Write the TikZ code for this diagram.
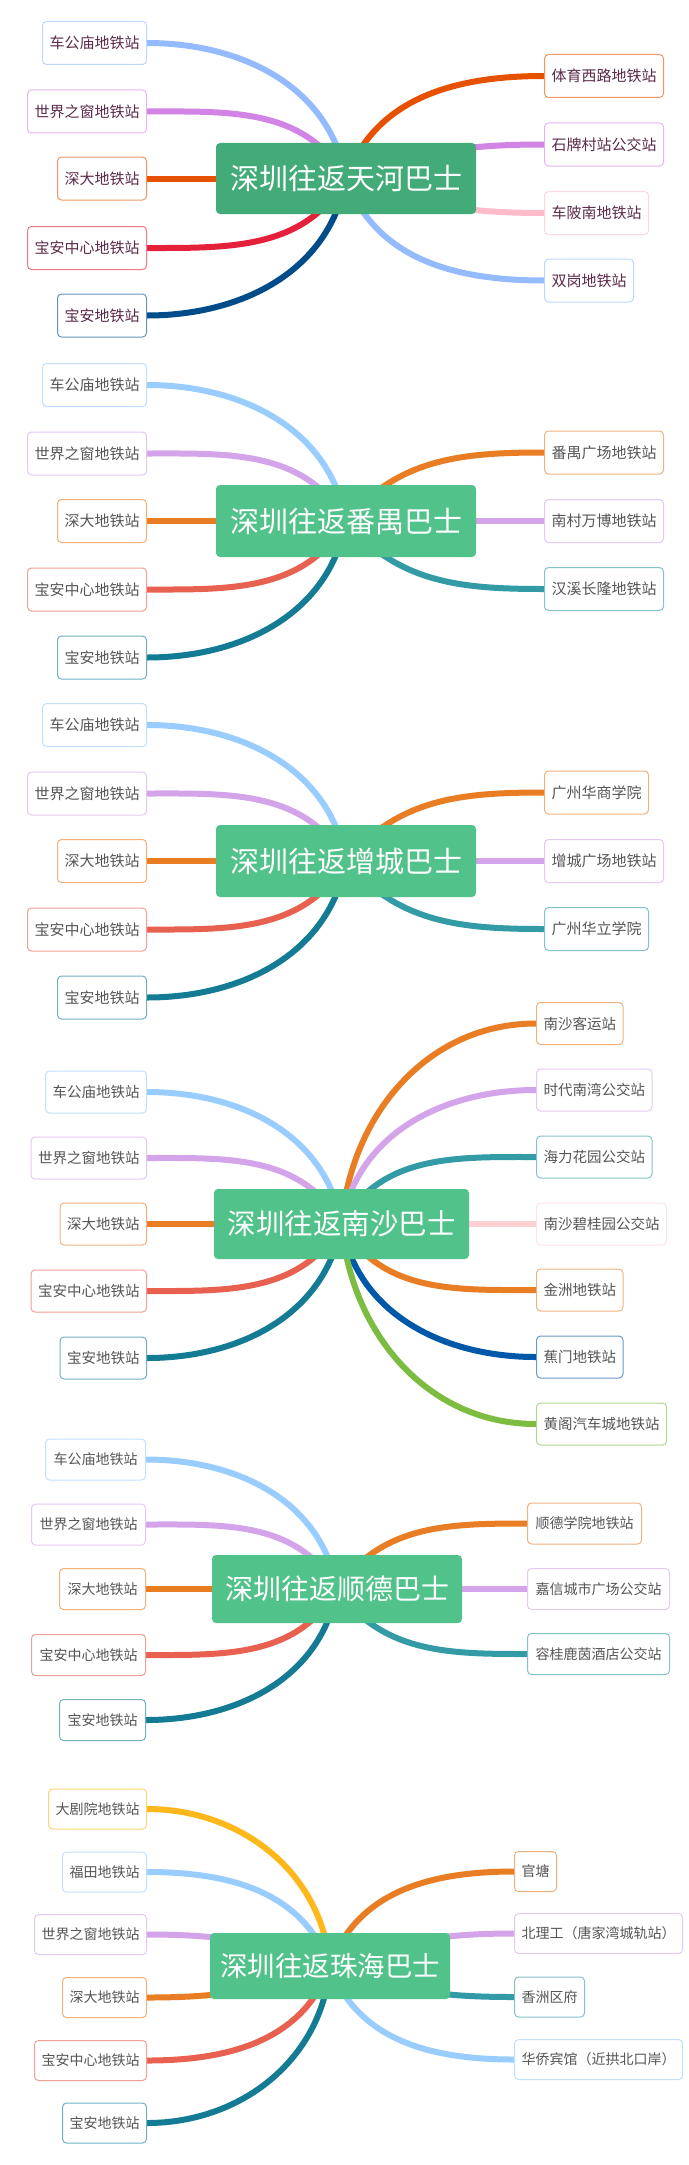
\documentclass[tikz,border=0pt]{standalone}
\usepackage{fontspec}
\newfontfamily\cjk{Noto Sans CJK SC}
\usetikzlibrary{backgrounds}

\definecolor{hubdark}{HTML}{43AB78}
\definecolor{hubgreen}{HTML}{52C28B}
\definecolor{leafplum}{HTML}{5A2A48}
\definecolor{leafgray}{HTML}{555555}
% first map
\definecolor{skyA}{HTML}{94BBFF}
\definecolor{orchidA}{HTML}{D283E6}
\definecolor{rustA}{HTML}{E65100}
\definecolor{redA}{HTML}{E5203A}
\definecolor{navyA}{HTML}{004C88}
\definecolor{pinkA}{HTML}{FFBCC8}
% other maps
\definecolor{sky}{HTML}{99CCFF}
\definecolor{lilac}{HTML}{D4A4EB}
\definecolor{carrot}{HTML}{E87D23}
\definecolor{coral}{HTML}{E8604F}
\definecolor{petrol}{HTML}{147B95}
\definecolor{teal}{HTML}{329BA5}
\definecolor{blush}{HTML}{FFD0D6}
\definecolor{cobalt}{HTML}{0059A8}
\definecolor{leaf}{HTML}{7CBC41}
\definecolor{amber}{HTML}{FFB81C}

\begin{document}
\begin{tikzpicture}[
    x=1pt, y=1pt,
    font=\cjk\fontsize{15}{18}\selectfont, text=leafgray,
    hub/.style={fill=hubgreen, text=white, rounded corners=4pt, inner sep=0pt,
      minimum width=260pt, minimum height=72pt, font=\cjk\fontsize{29}{34}\selectfont},
    stop/.style={draw=#1!60, fill=white, line width=1pt, rounded corners=4pt,
      inner xsep=7pt, inner ysep=0pt, minimum height=43pt},
    branch/.style={draw=#1, line width=6pt},
  ]
  \useasboundingbox (0,0) rectangle (688,-2165);
  \begin{scope}[on background layer]
    \fill[white] (0,0) rectangle (688,-2165);
  \end{scope}

  % 天河
  \begin{scope}[text=leafplum]
    \node[hub, fill=hubdark, minimum height=71pt] (r1) at (346,-178.5) {深圳往返天河巴士};
    \node[stop=skyA, anchor=east] (r1w1) at (147,-43) {车公庙地铁站};
    \node[stop=orchidA, anchor=east] (r1w2) at (147,-111.5) {世界之窗地铁站};
    \node[stop=rustA, anchor=east] (r1w3) at (147,-178.5) {深大地铁站};
    \node[stop=redA, anchor=east] (r1w4) at (147,-248) {宝安中心地铁站};
    \node[stop=navyA, anchor=east] (r1w5) at (147,-315.5) {宝安地铁站};
    \node[stop=rustA, anchor=west] (r1e1) at (544,-76) {体育西路地铁站};
    \node[stop=orchidA, anchor=west] (r1e2) at (544,-144.5) {石牌村站公交站};
    \node[stop=pinkA, anchor=west] (r1e3) at (544,-213) {车陂南地铁站};
    \node[stop=skyA, anchor=west] (r1e4) at (544,-280.5) {双岗地铁站};
    \begin{scope}[on background layer]
      \draw[branch=skyA] (r1.center) to[out=100, in=0] (r1w1.east);
      \draw[branch=orchidA] (r1.center) to[out=120, in=0] (r1w2.east);
      \draw[branch=rustA] (r1.center) -- (r1w3.east);
      \draw[branch=redA] (r1.center) to[out=240, in=0] (r1w4.east);
      \draw[branch=navyA] (r1.center) to[out=260, in=0] (r1w5.east);
      \draw[branch=rustA] (r1.center) to[out=70, in=180] (r1e1.west);
      \draw[branch=orchidA] (r1.center) to[out=20, in=180] (r1e2.west);
      \draw[branch=pinkA] (r1.center) to[out=-20, in=180] (r1e3.west);
      \draw[branch=skyA] (r1.center) to[out=-70, in=180] (r1e4.west);
    \end{scope}
  \end{scope}

  % 番禺
  \node[hub] (r2) at (346,-521) {深圳往返番禺巴士};
  \node[stop=sky, anchor=east] (r2w1) at (147,-385) {车公庙地铁站};
  \node[stop=lilac, anchor=east] (r2w2) at (147,-453.5) {世界之窗地铁站};
  \node[stop=carrot, anchor=east] (r2w3) at (147,-521) {深大地铁站};
  \node[stop=coral, anchor=east] (r2w4) at (147,-589.5) {宝安中心地铁站};
  \node[stop=petrol, anchor=east] (r2w5) at (147,-657.5) {宝安地铁站};
  \node[stop=carrot, anchor=west] (r2e1) at (544,-452.5) {番禺广场地铁站};
  \node[stop=lilac, anchor=west] (r2e2) at (544,-521) {南村万博地铁站};
  \node[stop=teal, anchor=west] (r2e3) at (544,-589) {汉溪长隆地铁站};
  \begin{scope}[on background layer]
    \draw[branch=sky] (r2.center) to[out=100, in=0] (r2w1.east);
    \draw[branch=lilac] (r2.center) to[out=120, in=0] (r2w2.east);
    \draw[branch=carrot] (r2.center) -- (r2w3.east);
    \draw[branch=coral] (r2.center) to[out=240, in=0] (r2w4.east);
    \draw[branch=petrol] (r2.center) to[out=260, in=0] (r2w5.east);
    \draw[branch=carrot] (r2.center) to[out=50, in=180] (r2e1.west);
    \draw[branch=lilac] (r2.center) -- (r2e2.west);
    \draw[branch=teal] (r2.center) to[out=-50, in=180] (r2e3.west);
  \end{scope}

  % 增城
  \node[hub] (r3) at (346,-861) {深圳往返增城巴士};
  \node[stop=sky, anchor=east] (r3w1) at (147,-725) {车公庙地铁站};
  \node[stop=lilac, anchor=east] (r3w2) at (147,-793.5) {世界之窗地铁站};
  \node[stop=carrot, anchor=east] (r3w3) at (147,-861) {深大地铁站};
  \node[stop=coral, anchor=east] (r3w4) at (147,-929.5) {宝安中心地铁站};
  \node[stop=petrol, anchor=east] (r3w5) at (147,-997.5) {宝安地铁站};
  \node[stop=carrot, anchor=west] (r3e1) at (544,-792.5) {广州华商学院};
  \node[stop=lilac, anchor=west] (r3e2) at (544,-861) {增城广场地铁站};
  \node[stop=teal, anchor=west] (r3e3) at (544,-929) {广州华立学院};
  \begin{scope}[on background layer]
    \draw[branch=sky] (r3.center) to[out=100, in=0] (r3w1.east);
    \draw[branch=lilac] (r3.center) to[out=120, in=0] (r3w2.east);
    \draw[branch=carrot] (r3.center) -- (r3w3.east);
    \draw[branch=coral] (r3.center) to[out=240, in=0] (r3w4.east);
    \draw[branch=petrol] (r3.center) to[out=260, in=0] (r3w5.east);
    \draw[branch=carrot] (r3.center) to[out=50, in=180] (r3e1.west);
    \draw[branch=lilac] (r3.center) -- (r3e2.west);
    \draw[branch=teal] (r3.center) to[out=-50, in=180] (r3e3.west);
  \end{scope}

  % 南沙
  \begin{scope}[font=\cjk\fontsize{14.5}{17}\selectfont, stop/.append style={minimum height=42pt}]
    \node[hub, minimum width=255pt, minimum height=70pt, font=\cjk\fontsize{28.5}{33}\selectfont] (r4) at (341.5,-1224) {深圳往返南沙巴士};
    \node[stop=sky, anchor=east] (r4w1) at (147,-1092) {车公庙地铁站};
    \node[stop=lilac, anchor=east] (r4w2) at (147,-1158) {世界之窗地铁站};
    \node[stop=carrot, anchor=east] (r4w3) at (147,-1224) {深大地铁站};
    \node[stop=coral, anchor=east] (r4w4) at (147,-1291) {宝安中心地铁站};
    \node[stop=petrol, anchor=east] (r4w5) at (147,-1358) {宝安地铁站};
    \node[stop=carrot, anchor=west] (r4e1) at (536,-1023.5) {南沙客运站};
    \node[stop=lilac, anchor=west] (r4e2) at (536,-1090) {时代南湾公交站};
    \node[stop=teal, anchor=west] (r4e3) at (536,-1157) {海力花园公交站};
    \node[stop=blush, anchor=west] (r4e4) at (536,-1224) {南沙碧桂园公交站};
    \node[stop=carrot, anchor=west] (r4e5) at (536,-1290) {金洲地铁站};
    \node[stop=cobalt, anchor=west] (r4e6) at (536,-1357) {蕉门地铁站};
    \node[stop=leaf, anchor=west] (r4e7) at (536,-1424) {黄阁汽车城地铁站};
    \begin{scope}[on background layer]
      \draw[branch=sky] (r4.center) to[out=100, in=0] (r4w1.east);
      \draw[branch=lilac] (r4.center) to[out=120, in=0] (r4w2.east);
      \draw[branch=carrot] (r4.center) -- (r4w3.east);
      \draw[branch=coral] (r4.center) to[out=240, in=0] (r4w4.east);
      \draw[branch=petrol] (r4.center) to[out=260, in=0] (r4w5.east);
      \draw[branch=carrot] (r4.center) to[out=85, in=180] (r4e1.west);
      \draw[branch=lilac] (r4.center) to[out=80, in=180] (r4e2.west);
      \draw[branch=teal] (r4.center) to[out=60, in=180] (r4e3.west);
      \draw[branch=blush] (r4.center) -- (r4e4.west);
      \draw[branch=carrot] (r4.center) to[out=-60, in=180] (r4e5.west);
      \draw[branch=cobalt] (r4.center) to[out=-80, in=180] (r4e6.west);
      \draw[branch=leaf] (r4.center) to[out=-85, in=180] (r4e7.west);
    \end{scope}
  \end{scope}

  % 顺德
  \begin{scope}[font=\cjk\fontsize{14}{17}\selectfont, stop/.append style={minimum height=41pt, inner xsep=8pt}]
    \node[hub, minimum width=250pt, minimum height=68pt, font=\cjk\fontsize{28}{33}\selectfont] (r5) at (337,-1589) {深圳往返顺德巴士};
    \node[stop=sky, anchor=east] (r5w1) at (146,-1459.5) {车公庙地铁站};
    \node[stop=lilac, anchor=east] (r5w2) at (146,-1524.5) {世界之窗地铁站};
    \node[stop=carrot, anchor=east] (r5w3) at (146,-1589) {深大地铁站};
    \node[stop=coral, anchor=east] (r5w4) at (146,-1655) {宝安中心地铁站};
    \node[stop=petrol, anchor=east] (r5w5) at (146,-1720) {宝安地铁站};
    \node[stop=carrot, anchor=west] (r5e1) at (527,-1523.5) {顺德学院地铁站};
    \node[stop=lilac, anchor=west] (r5e2) at (527,-1589) {嘉信城市广场公交站};
    \node[stop=teal, anchor=west] (r5e3) at (527,-1654) {容桂鹿茵酒店公交站};
    \begin{scope}[on background layer]
      \draw[branch=sky] (r5.center) to[out=100, in=0] (r5w1.east);
      \draw[branch=lilac] (r5.center) to[out=120, in=0] (r5w2.east);
      \draw[branch=carrot] (r5.center) -- (r5w3.east);
      \draw[branch=coral] (r5.center) to[out=240, in=0] (r5w4.east);
      \draw[branch=petrol] (r5.center) to[out=260, in=0] (r5w5.east);
      \draw[branch=carrot] (r5.center) to[out=55, in=180] (r5e1.west);
      \draw[branch=lilac] (r5.center) -- (r5e2.west);
      \draw[branch=teal] (r5.center) to[out=-55, in=180] (r5e3.west);
    \end{scope}
  \end{scope}

  % 珠海
  \begin{scope}[font=\cjk\fontsize{14}{17}\selectfont, stop/.append style={minimum height=40pt}]
    \node[hub, minimum width=240pt, minimum height=66pt, font=\cjk\fontsize{27.5}{32}\selectfont] (r6) at (330,-1966) {深圳往返珠海巴士};
    \node[stop=amber, anchor=east] (r6w1) at (147,-1809) {大剧院地铁站};
    \node[stop=sky, anchor=east] (r6w2) at (147,-1872) {福田地铁站};
    \node[stop=lilac, anchor=east] (r6w3) at (147,-1934.5) {世界之窗地铁站};
    \node[stop=carrot, anchor=east] (r6w4) at (147,-1997.5) {深大地铁站};
    \node[stop=coral, anchor=east] (r6w5) at (147,-2060.5) {宝安中心地铁站};
    \node[stop=petrol, anchor=east] (r6w6) at (147,-2123) {宝安地铁站};
    \node[stop=carrot, anchor=west] (r6e1) at (514,-1871.5) {官塘};
    \node[stop=lilac, anchor=west] (r6e2) at (514,-1933.5) {北理工（唐家湾城轨站）};
    \node[stop=teal, anchor=west] (r6e3) at (514,-1997) {香洲区府};
    \node[stop=sky, anchor=west] (r6e4) at (514,-2059.5) {华侨宾馆（近拱北口岸）};
    \begin{scope}[on background layer]
      \draw[branch=amber] (r6.center) to[out=95, in=0] (r6w1.east);
      \draw[branch=sky] (r6.center) to[out=110, in=0] (r6w2.east);
      \draw[branch=lilac] (r6.center) to[out=160, in=0] (r6w3.east);
      \draw[branch=carrot] (r6.center) to[out=200, in=0] (r6w4.east);
      \draw[branch=coral] (r6.center) to[out=250, in=0] (r6w5.east);
      \draw[branch=petrol] (r6.center) to[out=265, in=0] (r6w6.east);
      \draw[branch=carrot] (r6.center) to[out=70, in=180] (r6e1.west);
      \draw[branch=lilac] (r6.center) to[out=20, in=180] (r6e2.west);
      \draw[branch=teal] (r6.center) to[out=-20, in=180] (r6e3.west);
      \draw[branch=sky] (r6.center) to[out=-70, in=180] (r6e4.west);
    \end{scope}
  \end{scope}
\end{tikzpicture}
\end{document}
